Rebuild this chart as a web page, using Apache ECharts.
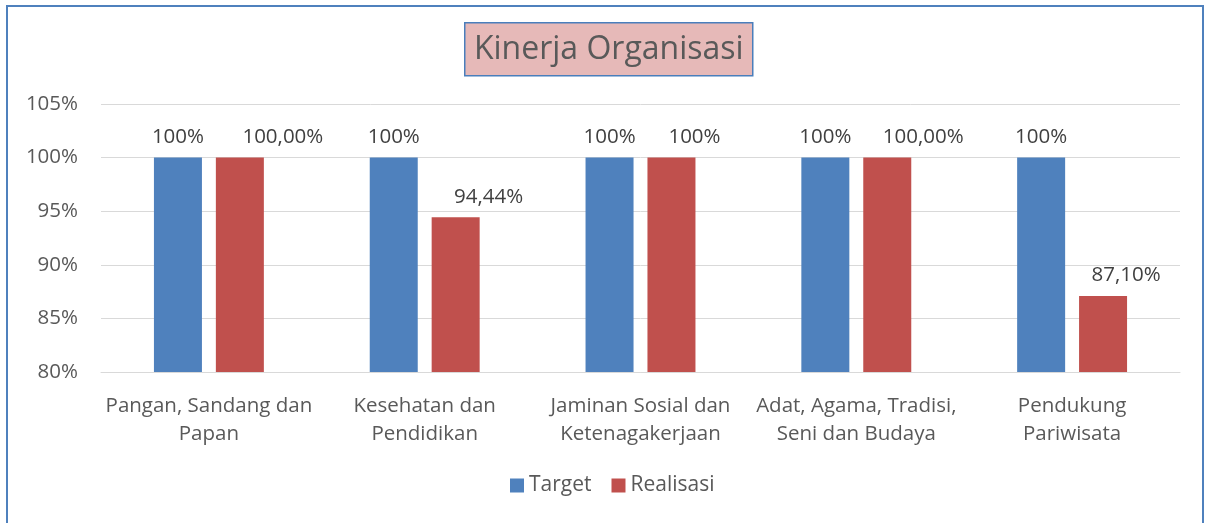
<!DOCTYPE html>
<html>
<head>
<meta charset="utf-8">
<script src="https://cdn.jsdelivr.net/npm/echarts@6/dist/echarts.min.js"></script>
<style>
  html, body { margin: 0; padding: 0; background: #fff; }
  #chart { width: 1208px; height: 523px; }
</style>
</head>
<body>
<div id="chart"></div>
<script>
  // data
  const categories = [
    'Pangan, Sandang dan\nPapan',
    'Kesehatan dan\nPendidikan',
    'Jaminan Sosial dan\nKetenagakerjaan',
    'Adat, Agama, Tradisi,\nSeni dan Budaya',
    'Pendukung\nPariwisata'
  ];
  const targetValues = [100, 100, 100, 100, 100];
  const realisasiValues = [100, 94.44, 100, 100, 87.10];
  const targetLabels = ['100%', '100%', '100%', '100%', '100%'];
  const realisasiLabels = ['100,00%', '94,44%', '100%', '100,00%', '87,10%'];
  const yTicks = [80, 85, 90, 95, 100, 105];

  // label shifts (px) to the right, as placed in the original
  const realLabelShift = [43, 33, 23, 36, 23];

  const FONT = '"Open Sans", "Noto Sans", sans-serif';
  const textColor = '#595959';
  const FS = 20.5;

  const chart = echarts.init(document.getElementById('chart'));

  chart.setOption({
    animation: false,
    textStyle: { fontFamily: FONT },
    color: ['#4F81BD', '#C0504D'],
    graphic: [
      {
        type: 'rect',
        shape: { x: 7, y: 6, width: 1196, height: 540 },
        style: { fill: 'none', stroke: '#4F81BD', lineWidth: 2 },
        silent: true
      },
      {
        type: 'group',
        left: 464,
        top: 22,
        children: [
          {
            type: 'rect',
            shape: { x: 0, y: 0, width: 288, height: 53 },
            style: { fill: '#E6B9B8', stroke: '#4A7EBB', lineWidth: 1.5 }
          },
          {
            type: 'text',
            x: 144,
            y: 27,
            style: {
              text: 'Kinerja Organisasi',
              fill: textColor,
              font: '32px ' + FONT,
              align: 'center',
              verticalAlign: 'middle'
            }
          }
        ]
      }
    ],
    legend: {
      bottom: 22,
      left: 505,
      itemWidth: 14,
      itemHeight: 14,
      itemGap: 20,
      icon: 'rect',
      textStyle: { color: textColor, fontSize: 21, fontFamily: FONT },
      data: ['Target', 'Realisasi']
    },
    grid: { left: 101, right: 28, top: 104, bottom: 151, containLabel: false },
    xAxis: {
      type: 'category',
      data: categories,
      axisLine: { show: true, lineStyle: { color: '#D9D9D9' } },
      axisTick: { show: false },
      axisLabel: {
        color: textColor,
        fontSize: FS,
        lineHeight: 28,
        margin: 20,
        interval: 0,
        fontFamily: FONT
      }
    },
    yAxis: {
      type: 'value',
      min: yTicks[0],
      max: yTicks[yTicks.length - 1],
      interval: 5,
      axisLine: { show: false },
      axisTick: { show: false },
      splitLine: { lineStyle: { color: '#D9D9D9', width: 1 } },
      axisLabel: {
        color: textColor,
        fontSize: FS,
        margin: 23,
        fontFamily: FONT,
        formatter: v => v + '%'
      }
    },
    series: [
      {
        name: 'Target',
        type: 'bar',
        barWidth: 48,
        barGap: '29%',
        data: targetValues.map((v, i) => ({
          value: v,
          label: { formatter: targetLabels[i] }
        })),
        label: {
          show: true,
          position: 'top',
          distance: 10,
          color: '#404040',
          fontSize: FS,
          fontFamily: FONT
        }
      },
      {
        name: 'Realisasi',
        type: 'bar',
        barWidth: 48,
        data: realisasiValues.map((v, i) => ({
          value: v,
          label: { formatter: realisasiLabels[i], offset: [realLabelShift[i], 0] }
        })),
        label: {
          show: true,
          position: 'top',
          distance: 10,
          color: '#404040',
          fontSize: FS,
          fontFamily: FONT
        }
      }
    ]
  });
</script>
</body>
</html>
